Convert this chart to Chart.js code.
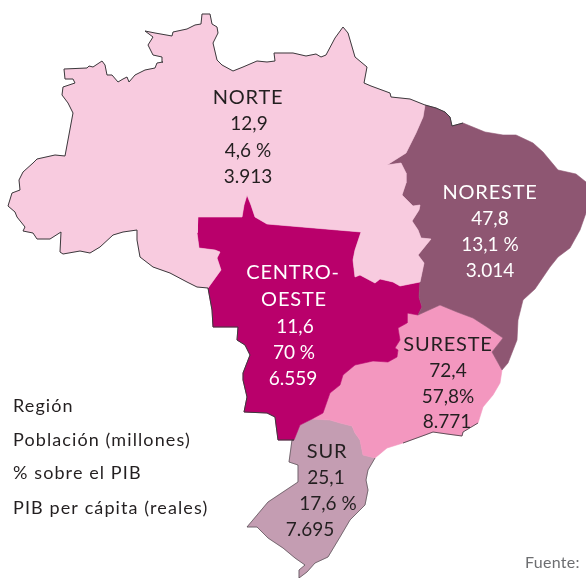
<!DOCTYPE html>
<html>
<head>
<meta charset="utf-8">
<script src="https://cdn.jsdelivr.net/npm/chart.js@4"></script>
<style>
  html, body { margin: 0; padding: 0; background: #fff; }
  canvas { display: block; }
</style>
</head>
<body>
<canvas id="chart" width="586" height="578"></canvas>
<script>
// region figures, in map order
const regions = ['NORTE', 'NORESTE', 'CENTRO-OESTE', 'SURESTE', 'SUR'];
const population = ['12,9', '47,8', '11,6', '72,4', '25,1'];
const pibShare = ['4,6 %', '13,1 %', '70 %', '57,8%', '17,6 %'];
const pibPerCapita = ['3.913', '3.014', '6.559', '8.771', '7.695'];
const keyLabels = ['Región', 'Población (millones)', '% sobre el PIB', 'PIB per cápita (reales)'];
const sourceLabel = 'Fuente:';

// outlines in map units, each piece shared by the regions on both sides
const coastNorte = [[208,288],[197,287],[187,282],[170,273],[153,267],[140,257],[137,240],[137,230],[123,232],[113,235],[100,247],[90,253],[80,251],[63,254],[60,252],[61,232],[50,239],[37,239],[33,233],[23,231],[25,227],[17,217],[15,212],[8,206],[12,193],[20,190],[19,180],[23,172],[33,163],[37,159],[55,155],[65,156],[73,113],[68,103],[62,95],[63,87],[75,83],[73,79],[65,79],[64,69],[87,68],[89,66],[93,67],[102,61],[105,65],[107,75],[112,75],[118,82],[123,79],[127,77],[129,82],[135,75],[145,70],[155,68],[157,63],[163,62],[162,57],[153,55],[148,45],[153,37],[145,31],[155,33],[172,36],[173,32],[187,29],[195,25],[201,24],[202,14],[210,14],[212,24],[217,27],[218,33],[213,43],[217,60],[222,65],[233,71],[243,67],[257,61],[267,62],[275,61],[274,53],[293,53],[306,56],[316,54],[321,57],[326,55],[335,38],[343,27],[348,33],[355,57],[361,62],[367,67],[364,83],[371,86],[390,93],[391,97],[410,99],[425,105]];
const borderNorteNoreste = [[425,105],[423,117],[416,133],[406,153],[387,165],[401,163],[406,173],[406,183],[402,195],[413,206],[420,205],[419,210],[412,221],[418,230],[421,238],[431,239],[418,255],[424,263],[420,282]];
const borderNorteCentro = [[420,282],[400,286],[393,282],[380,279],[375,283],[360,275],[355,277],[353,260],[355,250],[361,232],[267,224],[255,217],[251,205],[247,195],[244,205],[242,217],[198,217],[197,233],[199,248],[215,250],[220,252],[217,258],[221,270],[208,288]];
const coastNoreste = [[425,105],[436,108],[445,112],[450,117],[452,126],[463,123],[485,132],[503,135],[516,135],[533,143],[543,152],[558,170],[576,174],[586,182],[586,213],[580,230],[570,248],[558,257],[550,267],[535,289],[523,300],[518,320],[517,340],[508,363],[502,370]];
const borderNoresteSureste = [[502,370],[492,352],[503,338],[487,327],[473,318],[457,312],[440,305],[418,315]];
const borderNoresteCentro = [[418,315],[422,307],[419,297],[420,282]];
const borderCentroSureste = [[418,315],[407,313],[407,323],[398,328],[400,340],[395,348],[398,350],[397,357],[388,362],[373,361],[355,365],[343,375],[340,385],[330,393],[323,413],[312,419]];
const borderSurCentro = [[312,419],[300,425],[294,440]];
const coastCentro = [[294,440],[278,440],[275,417],[267,413],[244,412],[247,397],[243,380],[243,373],[250,355],[245,345],[237,340],[238,327],[213,327],[212,310],[208,288]];
const coastSureste = [[502,370],[500,383],[493,395],[483,407],[478,423],[463,432],[462,436],[447,434],[433,432],[425,435],[403,443],[387,448],[375,458]];
const borderSurSureste = [[375,458],[363,455],[360,440],[355,433],[352,426],[340,423],[330,420],[312,419]];
const coastSur = [[375,458],[368,470],[366,480],[368,490],[365,505],[350,520],[340,537],[328,557],[315,563],[307,572],[299,578],[299,570],[305,565],[295,558],[283,548],[268,538],[257,527],[247,527],[268,502],[283,492],[298,482],[298,465],[289,462],[292,440],[294,440]];

const rev = (a) => [...a].reverse();

const regionShapes = [
    [...coastNorte, ...borderNorteNoreste, ...borderNorteCentro],
    [...coastNoreste, ...borderNoresteSureste, ...borderNoresteCentro, ...rev(borderNorteNoreste)],
    [...rev(borderNorteCentro), ...rev(borderNoresteCentro), ...borderCentroSureste, ...borderSurCentro, ...coastCentro],
    [...rev(borderNoresteSureste), ...coastSureste, ...borderSurSureste, ...rev(borderCentroSureste)],
    [...rev(borderSurSureste), ...coastSur, ...rev(borderSurCentro)],
];
const regionColors = ['#f8cbdf', '#8e5672', '#b9006b', '#f397bf', '#c49db2'];
const inkDark = '#231f20';

const shapeDataset = (points, color) => ({
    data: points,
    showLine: true,
    fill: 'shape',
    backgroundColor: color,
    borderColor: color,
    borderWidth: 0.6,
    pointRadius: 0,
    tension: 0,
});
const coastDataset = (points, width) => ({
    data: points,
    showLine: true,
    fill: false,
    borderColor: '#3a3a3c',
    borderWidth: width,
    pointRadius: 0,
    tension: 0,
});

// text anchors: centre x and baseline per line, in map units
const blockLayout = [
    {lines: [regions[0], population[0], pibShare[0], pibPerCapita[0]], x: [248, 249, 248, 248], y: [104, 130, 157, 183], color: inkDark},
    {lines: [regions[1], population[1], pibShare[1], pibPerCapita[1]], x: [490, 490, 490, 490], y: [199, 225, 251, 277], color: '#fff'},
    {lines: ['CENTRO-', 'OESTE', population[2], pibShare[2], pibPerCapita[2]], x: [293, 294, 295, 294, 293], y: [279, 306, 333, 359, 385], color: '#fff'},
    {lines: [regions[3], population[3], pibShare[3], pibPerCapita[3]], x: [448, 448, 448, 447], y: [351, 377, 403, 428], color: inkDark},
    {lines: [regions[4], population[4], pibShare[4], pibPerCapita[4]], x: [327, 326, 328, 310], y: [458, 484, 510, 536], color: inkDark},
];
const keyY = [412, 446, 479, 514];

const mapText = {
    id: 'mapText',
    afterDatasetsDraw(chart) {
        const {ctx, scales: {x, y}} = chart;
        ctx.save();
        ctx.textBaseline = 'alphabetic';
        ctx.textAlign = 'center';
        blockLayout.forEach((b) => {
            ctx.fillStyle = b.color;
            b.lines.forEach((line, i) => {
                // the capitals run wider than the figures in the original type
                const caps = /^[A-Z-]+$/.test(line);
                ctx.font = caps ? '20px Lato' : '19px Lato';
                ctx.letterSpacing = caps ? '0.8px' : '0px';
                ctx.fillText(line, x.getPixelForValue(b.x[i]), y.getPixelForValue(b.y[i]));
            });
        });
        ctx.textAlign = 'left';
        ctx.font = '18px Lato';
        ctx.letterSpacing = '1.1px';
        ctx.fillStyle = inkDark;
        keyLabels.forEach((label, i) => {
            ctx.fillText(label, x.getPixelForValue(13), y.getPixelForValue(keyY[i]));
        });
        ctx.font = '16px Lato';
        ctx.letterSpacing = '0.3px';
        ctx.fillStyle = '#6d6e71';
        ctx.fillText(sourceLabel, x.getPixelForValue(525), y.getPixelForValue(568));
        ctx.restore();
    },
};

new Chart(document.getElementById('chart').getContext('2d'), {
    type: 'scatter',
    data: {
        datasets: [
            coastDataset(coastNorte, 1),
            coastDataset(coastCentro, 1),
            coastDataset(coastNoreste.slice(0, 6), 1),
            coastDataset(coastSureste.slice(4, 11), 0.8),
            coastDataset(coastSur, 0.6),
            ...regionShapes.map((points, i) => shapeDataset(points, regionColors[i])),
        ],
    },
    options: {
        responsive: false,
        animation: false,
        layout: {padding: 0},
        plugins: {legend: {display: false}, tooltip: {enabled: false}},
        events: [],
        scales: {
            x: {type: 'linear', display: false, min: 0, max: 586},
            y: {type: 'linear', display: false, min: 0, max: 578, reverse: true},
        },
    },
    plugins: [mapText],
});
</script>
</body>
</html>
